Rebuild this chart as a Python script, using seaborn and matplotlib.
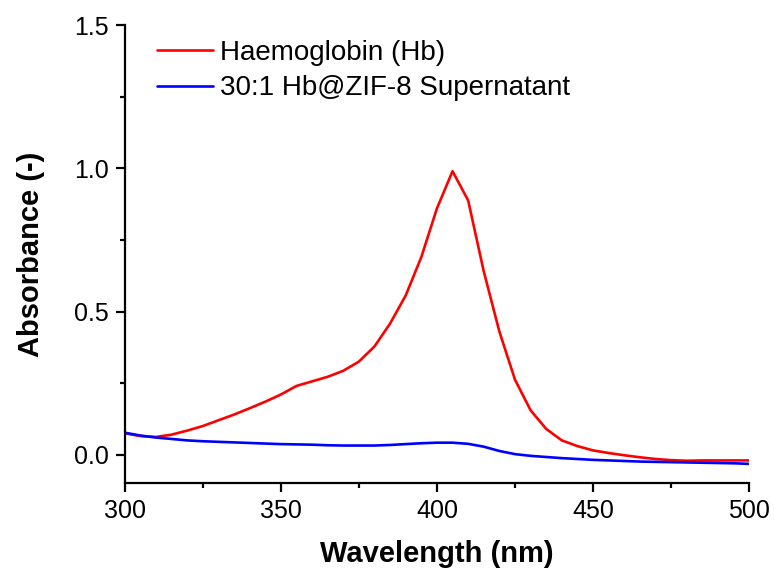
import numpy as np
import pandas as pd
import matplotlib
matplotlib.use("Agg")
import matplotlib.pyplot as plt
import seaborn as sns
from matplotlib.ticker import MultipleLocator, FormatStrFormatter

wavelength = list(range(300, 505, 5))

hb_absorbance = [
    0.075, 0.065, 0.062, 0.070, 0.084, 0.100, 0.120, 0.140, 0.162, 0.185,
    0.210, 0.240, 0.256, 0.272, 0.293, 0.325, 0.378, 0.458, 0.556, 0.690,
    0.860, 0.990, 0.888, 0.640, 0.430, 0.262, 0.155, 0.090, 0.050, 0.030,
    0.015, 0.006, -0.002, -0.009, -0.015, -0.019, -0.021, -0.020, -0.020,
    -0.020, -0.020,
]

supernatant_absorbance = [
    0.077, 0.067, 0.060, 0.055, 0.050, 0.047, 0.045, 0.043, 0.041, 0.039,
    0.037, 0.036, 0.035, 0.033, 0.032, 0.032, 0.032, 0.034, 0.037, 0.040,
    0.042, 0.042, 0.038, 0.028, 0.013, 0.002, -0.004, -0.008, -0.012, -0.015,
    -0.018, -0.020, -0.022, -0.024, -0.025, -0.026, -0.027, -0.028, -0.029,
    -0.030, -0.032,
]

series_names = ["Haemoglobin (Hb)", "30:1 Hb@ZIF-8 Supernatant"]
series_colors = ["#ff0000", "#0000ff"]

df = pd.DataFrame({
    "Wavelength": wavelength * 2,
    "Absorbance": hb_absorbance + supernatant_absorbance,
    "Sample": [series_names[0]] * len(wavelength) + [series_names[1]] * len(wavelength),
})

sns.set_theme(style="ticks")
plt.rcParams["font.family"] = ["Liberation Sans", "DejaVu Sans"]
plt.rcParams["text.color"] = "black"
plt.rcParams["axes.labelcolor"] = "black"

fig, ax = plt.subplots(figsize=(7.74, 5.72), dpi=100)
fig.subplots_adjust(left=0.161, right=0.968, top=0.956, bottom=0.155)

sns.lineplot(data=df, x="Wavelength", y="Absorbance", hue="Sample",
             palette=dict(zip(series_names, series_colors)),
             linewidth=1.9, ax=ax)

ax.set_xlim(300, 500)
ax.set_ylim(-0.1, 1.5)
ax.xaxis.set_major_locator(MultipleLocator(50))
ax.xaxis.set_minor_locator(MultipleLocator(25))
ax.yaxis.set_major_locator(MultipleLocator(0.5))
ax.yaxis.set_minor_locator(MultipleLocator(0.25))
ax.yaxis.set_major_formatter(FormatStrFormatter("%.1f"))

for side in ("top", "right"):
    ax.spines[side].set_visible(False)
for side in ("left", "bottom"):
    ax.spines[side].set_linewidth(1.6)
    ax.spines[side].set_color("black")

ax.tick_params(axis="both", which="major", direction="out", length=6.5, width=1.6,
               labelsize=18, colors="black", labelcolor="black", pad=5)
ax.tick_params(axis="both", which="minor", direction="out", length=3.5, width=1.6,
               colors="black")

ax.set_xlabel("Wavelength (nm)", fontsize=21, fontweight="bold", labelpad=12,
              color="black")
ax.set_ylabel("Absorbance (-)", fontsize=21, fontweight="bold", labelpad=21,
              color="black")

leg = ax.legend(loc="upper left", bbox_to_anchor=(0.02, 1.01), frameon=False,
                fontsize=20, handlelength=2.05, handletextpad=0.22,
                labelspacing=0.34, borderaxespad=0.3)
for text in leg.get_texts():
    text.set_color("black")
for line in leg.get_lines():
    line.set_linewidth(1.9)

fig.savefig("out.png", dpi=100)
